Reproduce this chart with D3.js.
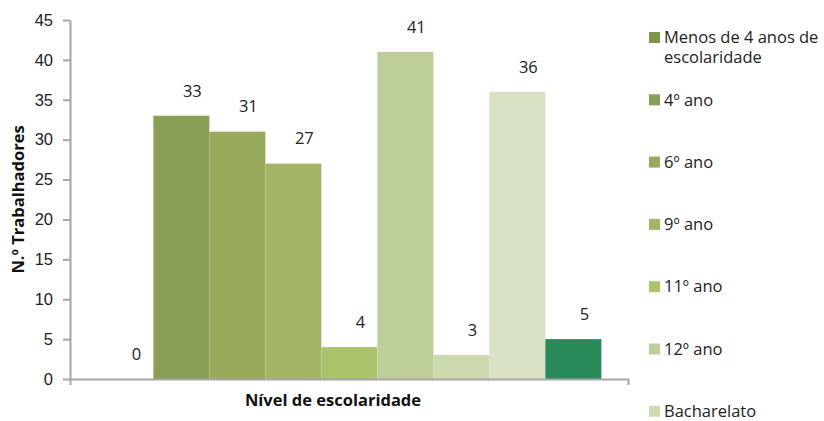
<!DOCTYPE html>
<html>
<head>
<meta charset="utf-8">
<script src="https://cdn.jsdelivr.net/npm/d3@7"></script>
<style>
  body { margin: 0; background: #fff; }
  svg { display: block; font-family: "Open Sans", sans-serif; }
  .axis path, .axis line { stroke: #a6a6a6; stroke-width: 2; }
  .axis text { fill: #222; font-size: 16.5px; }
</style>
</head>
<body>
<svg width="824" height="421"></svg>
<script>
// data
var category = "Nível de escolaridade";
var series = ["Menos de 4 anos de escolaridade", "4º ano", "6º ano", "9º ano", "11º ano",
              "12º ano", "Bacharelato", "Licenciatura", "Mestrado"];
var values = [0, 33, 31, 27, 4, 41, 3, 36, 5];
var colors = ["#7f9549", "#8a9f56", "#98ab5d", "#a3b668", "#abc46c",
              "#bdce98", "#ccdab0", "#d9e2c5", "#2a8b5a"];
var yTicks = [0, 5, 10, 15, 20, 25, 30, 35, 40, 45];

var svg = d3.select("svg"),
    margin = {top: 20, right: 196, bottom: 42, left: 70},
    width = +svg.attr("width") - margin.left - margin.right,
    height = +svg.attr("height") - margin.top - margin.bottom,
    g = svg.append("g").attr("transform", "translate(" + margin.left + "," + margin.top + ")");

var x0 = d3.scaleBand()
    .domain([category])
    .range([0, width])
    .paddingInner(0)
    .paddingOuter(0.05);

var x1 = d3.scaleBand()
    .domain(series)
    .rangeRound([0, x0.bandwidth()]);

var y = d3.scaleLinear()
    .domain([0, 45])
    .range([height, 0]);

var color = d3.scaleOrdinal().domain(series).range(colors);

var data = series.map(function(s, i) { return {key: s, value: values[i]}; });

var grp = g.append("g")
    .attr("transform", "translate(" + x0(category) + ",0)");

grp.selectAll("rect")
  .data(data)
  .enter().append("rect")
    .attr("x", function(d) { return x1(d.key); })
    .attr("y", function(d) { return y(d.value); })
    .attr("width", x1.bandwidth())
    .attr("height", function(d) { return height - y(d.value); })
    .attr("fill", function(d) { return color(d.key); });

grp.selectAll("text.val")
  .data(data)
  .enter().append("text")
    .attr("class", "val")
    .attr("x", function(d) { return x1(d.key) + x1.bandwidth() / 2 + 11; })
    .attr("y", function(d) { return y(d.value) - 25; })
    .attr("dy", "0.35em")
    .attr("text-anchor", "middle")
    .attr("font-size", 16.5)
    .attr("fill", "#222")
    .text(function(d) { return d.value; });

// axes
g.append("g")
    .attr("class", "axis")
    .call(d3.axisLeft(y).tickValues(yTicks).tickSize(7).tickPadding(10).tickSizeOuter(0));

g.append("g")
    .attr("class", "axis")
    .attr("transform", "translate(0," + height + ")")
    .call(d3.axisBottom(d3.scaleLinear().range([0, width])).tickValues([]).tickSizeOuter(6));

g.selectAll(".axis .domain").attr("fill", "none");

// axis titles
svg.append("text")
    .attr("transform", "translate(18," + (margin.top + height / 2) + ") rotate(-90)")
    .attr("text-anchor", "middle")
    .attr("dy", "0.35em")
    .attr("font-size", 16.5)
    .attr("font-weight", "bold")
    .attr("fill", "#111")
    .text("N.º Trabalhadores");

svg.append("text")
    .attr("x", 333)
    .attr("y", 400)
    .attr("text-anchor", "middle")
    .attr("dy", "0.35em")
    .attr("font-size", 16.5)
    .attr("font-weight", "bold")
    .attr("fill", "#111")
    .text(category);

// legend (only the entries that fit in the picture are visible)
var legendStep = 62.3;
var legendItems = series.filter(function(d, i) { return 37.5 + i * legendStep < 421; });

var legend = svg.append("g")
    .attr("transform", "translate(649,37.5)")
  .selectAll("g")
  .data(legendItems)
  .enter().append("g")
    .attr("transform", function(d, i) { return "translate(0," + i * legendStep + ")"; });

legend.append("rect")
    .attr("y", -5.5)
    .attr("width", 11)
    .attr("height", 11)
    .attr("fill", function(d) { return color(d); });

legend.append("text")
    .attr("x", 15)
    .attr("font-size", 16.5)
    .attr("fill", "#222")
    .each(function(d) {
      var t = d3.select(this);
      var lines = d === series[0] ? ["Menos de 4 anos de", "escolaridade"] : [d];
      lines.forEach(function(l, k) {
        t.append("tspan").attr("x", 15).attr("y", k * 19.5).attr("dy", "0.35em").text(l);
      });
    });
</script>
</body>
</html>
